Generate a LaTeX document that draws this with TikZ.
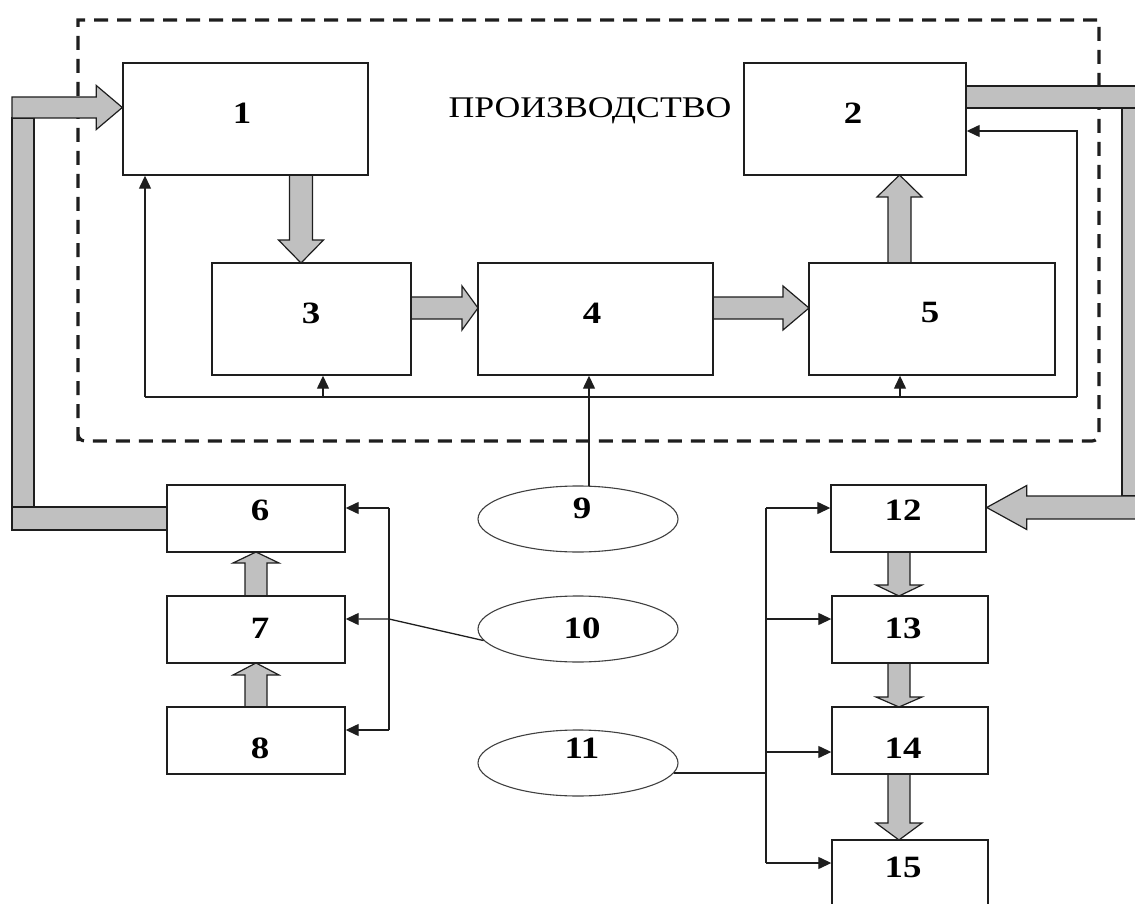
\documentclass[tikz,border=0pt]{standalone}
\usepackage{fontspec}
\setmainfont{Liberation Serif}[FakeStretch=1.19]
\usetikzlibrary{arrows.meta,calc,shapes.geometric}
\definecolor{flowgray}{RGB}{192,192,192}
\definecolor{ink}{RGB}{30,30,30}
\pgfdeclarelayer{bg}
\pgfsetlayers{bg,main}

\tikzset{
  box/.style={draw=ink, line width=1.4pt, fill=white, rectangle, inner sep=0pt},
  src/.style={draw=ink!85, line width=1.1pt, fill=white, ellipse, inner sep=0pt,
              minimum width=200pt, minimum height=66pt},
  num/.style={font=\fontsize{31}{36}\selectfont\bfseries, inner sep=0pt},
  caption/.style={font=\fontsize{30}{36}\selectfont, inner sep=0pt},
  flow/.style={fill=flowgray, draw=ink, line width=1.2pt, line join=miter},
  link/.style={draw=ink, line width=1.3pt},
  arr/.style={link, -{Triangle[length=13pt,width=12pt]}},
  border/.style={draw=ink, line width=3.2pt, dash pattern=on 14pt off 9pt},
}

% wide material-flow arrow: start, tip, half shaft, half head, head length
\newcommand\fatflow[5]{%
  \coordinate (fh) at ($(#2)!#5!(#1)$);
  \draw[flow] ($(#1)!#3!90:(#2)$) -- ($(fh)!#3!90:(#2)$) -- ($(fh)!#4!90:(#2)$)
    -- (#2) -- ($(fh)!#4!-90:(#2)$) -- ($(fh)!#3!-90:(#2)$) -- ($(#1)!#3!-90:(#2)$) -- cycle;}

\begin{document}
\begin{tikzpicture}[x=1pt,y=-1pt]
\useasboundingbox (0,0) rectangle (1135,904);
\clip (0,0) rectangle (1135,904);

% blocks of the production unit
\node[box, minimum width=245pt, minimum height=112pt] (b1) at (245.5,119) {};
\node[box, minimum width=222pt, minimum height=112pt] (b2) at (855,119) {};
\node[box, minimum width=199pt, minimum height=112pt] (b3) at (311.5,319) {};
\node[box, minimum width=235pt, minimum height=112pt] (b4) at (595.5,319) {};
\node[box, minimum width=246pt, minimum height=112pt] (b5) at (932,319) {};

% supply chain blocks
\node[box, minimum width=178pt, minimum height=67pt] (b6) at (256,518.5) {};
\node[box, minimum width=178pt, minimum height=67pt] (b7) at (256,629.5) {};
\node[box, minimum width=178pt, minimum height=67pt] (b8) at (256,740.5) {};

% distribution chain blocks
\node[box, minimum width=155pt, minimum height=67pt] (b12) at (908.5,518.5) {};
\node[box, minimum width=156pt, minimum height=67pt] (b13) at (910,629.5) {};
\node[box, minimum width=156pt, minimum height=67pt] (b14) at (910,740.5) {};
\node[box, minimum width=156pt, minimum height=70pt] (b15) at (910,875) {};

% external factors
\node[src] (e9) at (578,519) {};
\node[src] (e10) at (578,629) {};
\node[src] (e11) at (578,763) {};

% numbers
\node[num] (n1) at (242,113) {1};
\node[num] (n2) at (853,113) {2};
\node[num] (n3) at (311,313) {3};
\node[num] (n4) at (592,313) {4};
\node[num] (n5) at (930,313) {5};
\node[num] (n6) at (260,510) {6};
\node[num] (n7) at (260,628) {7};
\node[num] (n8) at (260,748) {8};
\node[num] (n9) at (582,508) {9};
\node[num] (n10) at (582,628) {10};
\node[num] (n11) at (582,748) {11};
\node[num] (n12) at (903,510) {12};
\node[num] (n13) at (903,628) {13};
\node[num] (n14) at (903,748) {14};
\node[num] (n15) at (903,867) {15};
\node[caption] (prod) at (590,111) {ПРОИЗВОДСТВО};

\begin{pgfonlayer}{bg}
  % boundary of production
  \draw[border] (78,441) -- (78,20) -- (1099,20) [rounded corners=7pt] -- (1099,441)
    -- (78,441) [sharp corners] -- cycle;

  % material flows inside production
  \coordinate (f13s) at (301,175);  \coordinate (f13e) at (301,263);
  \fatflow{f13s}{f13e}{11.5pt}{22.5pt}{23pt}
  \coordinate (f34s) at (411,308);  \coordinate (f34e) at (478,308);
  \fatflow{f34s}{f34e}{11pt}{22pt}{16pt}
  \coordinate (f45s) at (713,308);  \coordinate (f45e) at (809,308);
  \fatflow{f45s}{f45e}{11pt}{22pt}{26pt}
  \coordinate (f52s) at (899.5,263); \coordinate (f52e) at (899.5,175);
  \fatflow{f52s}{f52e}{11.5pt}{22.5pt}{22pt}

  % supply chain flows
  \coordinate (f76s) at (256,596);  \coordinate (f76e) at (256,552);
  \fatflow{f76s}{f76e}{11pt}{23pt}{11pt}
  \coordinate (f87s) at (256,707);  \coordinate (f87e) at (256,663);
  \fatflow{f87s}{f87e}{11pt}{23pt}{12pt}

  % supply loop from 6 to 1
  \draw[flow] (12,507) rectangle ($(b6.west)+(0,11.5)$);
  \draw[flow] (12,118) rectangle (34,507);
  \coordinate (f61s) at (12,107.5);
  \coordinate (f61e) at ($(b1.west)+(0,-11.5)$);
  \fatflow{f61s}{f61e}{10.5pt}{22pt}{26pt}

  % output loop from 2 to 12
  \draw[flow] ($(b2.east)+(0,-33)$) rectangle (1145,108);
  \draw[flow] (1122,108) rectangle (1145,496);
  \coordinate (f212s) at (1145,507.5);
  \coordinate (f212e) at ($(b12.east)+(0,-11)$);
  \fatflow{f212s}{f212e}{11.5pt}{22pt}{40pt}

  % distribution chain flows
  \coordinate (f1213s) at (899,552); \coordinate (f1213e) at (899,596);
  \fatflow{f1213s}{f1213e}{11pt}{23pt}{11pt}
  \coordinate (f1314s) at (899,663); \coordinate (f1314e) at (899,707);
  \fatflow{f1314s}{f1314e}{11pt}{23pt}{10pt}
  \coordinate (f1415s) at (899,774); \coordinate (f1415e) at (899,840);
  \fatflow{f1415s}{f1415e}{11pt}{23pt}{17pt}
\end{pgfonlayer}

% control feedback inside production
\coordinate (busL) at (145,397);
\coordinate (busR) at (1077,397);
\coordinate (t3) at (323,397);
\coordinate (t5) at (900,397);
\draw[link] (busL) -- (busR);
\draw[arr] (busR) |- ($(b2.east)+(0,12)$);
\draw[arr] (busL) -- (busL |- b1.south);
\draw[arr] (t3) -- (t3 |- b3.south);
\draw[arr] (t5) -- (t5 |- b5.south);

% factor 9 to block 4
\coordinate (t4) at (589,486);
\draw[arr] (t4) -- (t4 |- b4.south);

% factor 10 to supply blocks
\coordinate (lb6) at (389,508);
\coordinate (lb7) at (389,619);
\coordinate (lb8) at (389,730);
\draw[link] (lb6) -- (lb8);
\draw[arr] (lb6) -- (lb6 -| b6.east);
\draw[arr] (lb8) -- (lb8 -| b8.east);
\draw[arr] (e10.187) -- (lb7) -- (lb7 -| b7.east);

% factor 11 to distribution blocks
\coordinate (rb12) at (766,508);
\coordinate (rb13) at (766,619);
\coordinate (rb14) at (766,752);
\coordinate (rb15) at (766,863);
\draw[link] (rb12) -- (rb15);
\draw[link] (e11.-6) -- (e11.-6 -| rb12);
\draw[arr] (rb12) -- (rb12 -| b12.west);
\draw[arr] (rb13) -- (rb13 -| b13.west);
\draw[arr] (rb14) -- (rb14 -| b14.west);
\draw[arr] (rb15) -- (rb15 -| b15.west);
\end{tikzpicture}
\end{document}
